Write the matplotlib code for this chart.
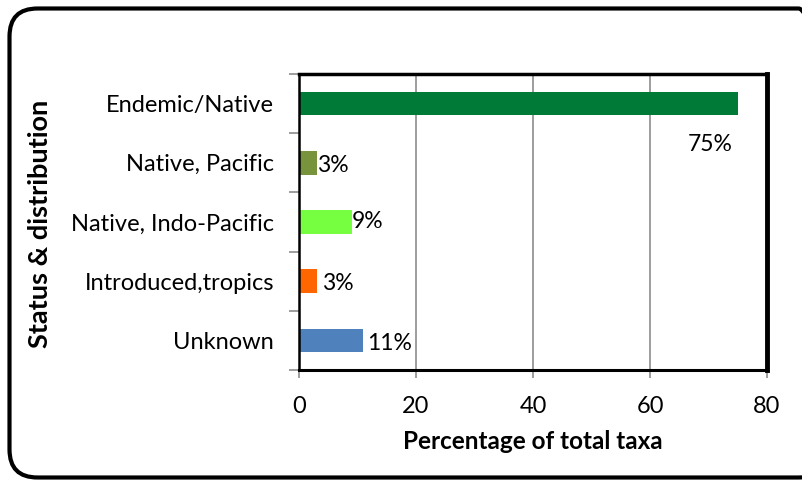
import matplotlib
matplotlib.use("Agg")
import matplotlib.pyplot as plt
from matplotlib.patches import FancyBboxPatch
import numpy as np

plt.rcParams['font.family'] = ['Lato', 'DejaVu Sans']

categories = ["Unknown", "Introduced,tropics", "Native, Indo-Pacific",
              "Native, Pacific", "Endemic/Native"]
values = [11, 3, 9, 3, 75]
labels = ["11%", "3%", "9%", "3%", "75%"]
colors = ["#4F81BD", "#FF6600", "#76FF40", "#77933C", "#007A37"]
xticks = [0, 20, 40, 60, 80]

fig = plt.figure(figsize=(8.03, 4.82), dpi=100)
ax = fig.add_axes([0.3724, 0.2324, 0.5828, 0.6141])

y = np.arange(len(categories))
ax.barh(y, values, height=0.4, color=colors, zorder=3)

ax.set_xlim(0, 80)
ax.set_ylim(-0.5, len(categories) - 0.5)
ax.set_xticks(xticks)
ax.set_xticklabels([str(t) for t in xticks], fontsize=17)
ax.grid(axis='x', color='#8c8c8c', linewidth=1.2, zorder=0)

ax.set_yticks(y)
ax.set_yticklabels(categories, fontsize=17)
ax.tick_params(axis='y', which='major', length=0, pad=18)
ax.set_yticks(np.arange(-0.5, len(categories), 1.0), minor=True)
ax.tick_params(axis='y', which='minor', length=7, color='#8c8c8c', width=1.2)
ax.tick_params(axis='x', which='major', length=6, color='#8c8c8c', width=1.2,
               pad=13)

for side, lw in [('top', 2.5), ('right', 3.5), ('bottom', 2.2), ('left', 1.8)]:
    ax.spines[side].set_linewidth(lw)
    ax.spines[side].set_color('black')
    ax.spines[side].set_zorder(4)

# value labels: offsets in points from each bar end
offsets = [(3, -2), (4, -2), (0, 0), (0, -2)]
for i in range(4):
    ax.annotate(labels[i], xy=(values[i], y[i]), xytext=offsets[i],
                textcoords='offset points', ha='left', va='center',
                fontsize=16.5, zorder=5)
ax.text(70.2, y[4] - 0.69, labels[4], ha='center', va='center', fontsize=16.5,
        zorder=5)

ax.set_xlabel("Percentage of total taxa", fontsize=17.5, fontweight='bold',
              labelpad=9)
fig.text(0.05, 0.5355, "Status & distribution", rotation=90, ha='center',
         va='center', fontsize=19.5, fontweight='bold')

frame = FancyBboxPatch((0.095, 0.045), 8.17, 4.69,
                       boxstyle="round,pad=0,rounding_size=0.28",
                       transform=fig.dpi_scale_trans, facecolor='none',
                       edgecolor='black', linewidth=3, clip_on=False)
fig.patches.append(frame)

fig.savefig("out.png", dpi=100)
